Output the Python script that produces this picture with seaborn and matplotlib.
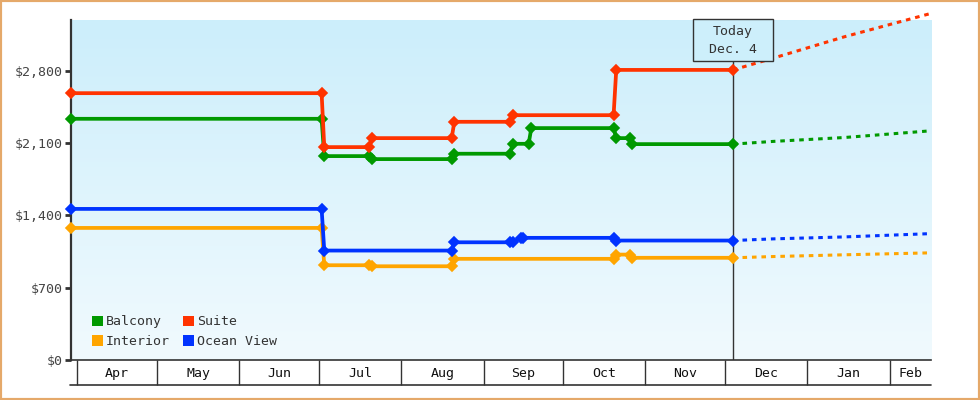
import numpy as np
import pandas as pd
import matplotlib
matplotlib.use("Agg")
import matplotlib.pyplot as plt
import matplotlib.dates as mdates
import seaborn as sns
from matplotlib.patches import Patch, Rectangle
from matplotlib.lines import Line2D
from matplotlib.ticker import FixedLocator, NullFormatter, StrMethodFormatter

# price history (observed), one list of dates and prices per cabin type
start = "2014-03-29 14:00"
end = "2015-02-16 14:00"
today = "2014-12-04"

balcony_dates = [start, "2014-07-02", "2014-07-03", "2014-07-20", "2014-07-21", "2014-08-20",
                 "2014-08-21", "2014-09-11", "2014-09-12", "2014-09-18", "2014-09-19",
                 "2014-10-20", "2014-10-21", "2014-10-26", "2014-10-27", today]
balcony_prices = [2334, 2334, 1973, 1973, 1944, 1944, 1996, 1996, 2092, 2092, 2244,
                  2244, 2147, 2147, 2089, 2089]

suite_dates = [start, "2014-07-02", "2014-07-03", "2014-07-20", "2014-07-21", "2014-08-20",
               "2014-08-21", "2014-09-11", "2014-09-12", "2014-10-20", "2014-10-21", today]
suite_prices = [2582, 2582, 2060, 2060, 2147, 2147, 2305, 2305, 2369, 2369, 2807, 2807]

ocean_dates = [start, "2014-07-02", "2014-07-03", "2014-08-20", "2014-08-21", "2014-09-11",
               "2014-09-12", "2014-09-15", "2014-09-16", "2014-10-20", "2014-10-21", today]
ocean_prices = [1462, 1462, 1059, 1059, 1139, 1139, 1145, 1176, 1182, 1182, 1156, 1156]

interior_dates = [start, "2014-07-02", "2014-07-03", "2014-07-20", "2014-07-21", "2014-08-20",
                  "2014-08-21", "2014-10-20", "2014-10-21", "2014-10-26", "2014-10-27", today]
interior_prices = [1278, 1278, 917, 917, 907, 907, 979, 979, 1020, 1020, 989, 989]

# forecast after today
forecast_dates = [today, "2014-12-19", "2015-01-15", end]
balcony_forecast = [2089, 2115, 2153, 2218]
suite_forecast = [2807, 2920, 3128, 3354]
ocean_forecast = [1156, 1172, 1191, 1223]
interior_forecast = [989, 1001, 1018, 1037]

labels = ["Balcony", "Interior", "Suite", "Ocean View"]
colors = ["#009900", "#ffa500", "#ff3300", "#0033ff"]
month_names = ["Apr", "May", "Jun", "Jul", "Aug", "Sep", "Oct", "Nov", "Dec", "Jan", "Feb"]
y_ticks = [0, 700, 1400, 2100, 2800]

sns.set_theme(style="white")
mono = "DejaVu Sans Mono"
plt.rcParams["font.family"] = [mono]

fig = plt.figure(figsize=(9.8, 4), dpi=100)
ax = fig.add_axes([71 / 980, 40 / 400, 860 / 980, 340 / 400])

# background gradient
grad = np.linspace(0, 1, 256).reshape(-1, 1)
cmap = matplotlib.colors.LinearSegmentedColormap.from_list("bg", ["#cceefb", "#f1fafe"])
ax.imshow(grad, extent=[0, 1, 0, 1], transform=ax.transAxes, aspect="auto",
          cmap=cmap, zorder=0)


def to_dt(d):
    return pd.to_datetime(d, format="ISO8601")


series = [
    (balcony_dates, balcony_prices, balcony_forecast, colors[0]),
    (interior_dates, interior_prices, interior_forecast, colors[1]),
    (suite_dates, suite_prices, suite_forecast, colors[2]),
    (ocean_dates, ocean_prices, ocean_forecast, colors[3]),
]
for dates, prices, fc, col in series:
    sns.lineplot(x=to_dt(dates), y=prices, ax=ax, color=col, lw=2.7,
                 marker="D", markersize=5.5, markeredgewidth=1.2, markeredgecolor=col,
                 estimator=None, sort=False, zorder=3, clip_on=False)
    sns.lineplot(x=to_dt(forecast_dates), y=fc, ax=ax, color=col, lw=2.2,
                 linestyle=(0, (1.5, 1.6)), estimator=None, sort=False, zorder=3,
                 clip_on=False)

x0, x1 = pd.Timestamp(start), pd.Timestamp(end)
ax.set_xlim(x0, x1)
ax.set_ylim(0, 3290)

# today marker
t = pd.Timestamp(today)
ax.axvline(t, ymin=0, ymax=0.88, color="#333333", lw=1, zorder=2)
xt = ax.get_xaxis_transform()
half = pd.Timedelta(days=15.1)
ax.add_patch(Rectangle((mdates.date2num(t - half), 0.88), 30.2, 0.122, transform=xt,
                       facecolor="#cdeffb", edgecolor="#333333", lw=1, zorder=4,
                       clip_on=False))
ax.text(t, 0.94, "Today\nDec. 4", transform=xt, ha="center", va="center",
        fontsize=9.5, color="#333333", linespacing=1.45, zorder=5)

# y axis
ax.yaxis.set_major_locator(FixedLocator(y_ticks))
ax.yaxis.set_major_formatter(StrMethodFormatter("${x:,.0f}"))
ax.tick_params(axis="y", which="major", left=True, length=4, width=2,
               color="#333333", labelsize=9.5, labelcolor="#444444", pad=2)

# month boxes on the x axis
bounds = list(pd.date_range("2014-04-01", "2015-02-01", freq="MS")) + [x1]
mids = [a + (b - a) / 2 for a, b in zip(bounds[:-1], bounds[1:])]
ax.xaxis.set_major_locator(FixedLocator(mdates.date2num(bounds[:-1])))
ax.xaxis.set_major_formatter(NullFormatter())
ax.xaxis.set_minor_locator(FixedLocator(mdates.date2num(mids)))
ax.xaxis.set_minor_formatter(matplotlib.ticker.FixedFormatter(month_names))
ax.tick_params(axis="x", which="major", bottom=True, length=18, width=1,
               color="#333333", direction="out")
ax.tick_params(axis="x", which="minor", bottom=True, length=0, labelsize=9.5,
               labelcolor="#111111", pad=5)
ax.add_line(Line2D([-0.001, 1], [-25 / 340, -25 / 340], transform=ax.transAxes,
                   color="#333333", lw=1.2, clip_on=False))

for s in ["top", "right"]:
    ax.spines[s].set_visible(False)
ax.spines["left"].set_color("#333333")
ax.spines["left"].set_linewidth(1.6)
ax.spines["bottom"].set_color("#333333")
ax.spines["bottom"].set_linewidth(1.2)
ax.set_xlabel("")
ax.set_ylabel("")

handles = [Patch(facecolor=c, edgecolor="none") for c in colors]
leg = ax.legend(handles, labels, ncol=2, loc="lower left", bbox_to_anchor=(0.015, 0.012),
                frameon=False, handlelength=0.85, handleheight=0.85, handletextpad=0.2,
                columnspacing=1.0, labelspacing=0.5, fontsize=9.5, borderaxespad=0.2)
for txt in leg.get_texts():
    txt.set_color("#333333")

# figure border
fig.patches.append(Rectangle((0, 0), 1, 1, transform=fig.transFigure, fill=False,
                             edgecolor="#e5a96a", lw=3, zorder=10))

fig.savefig("out.png", dpi=100)
